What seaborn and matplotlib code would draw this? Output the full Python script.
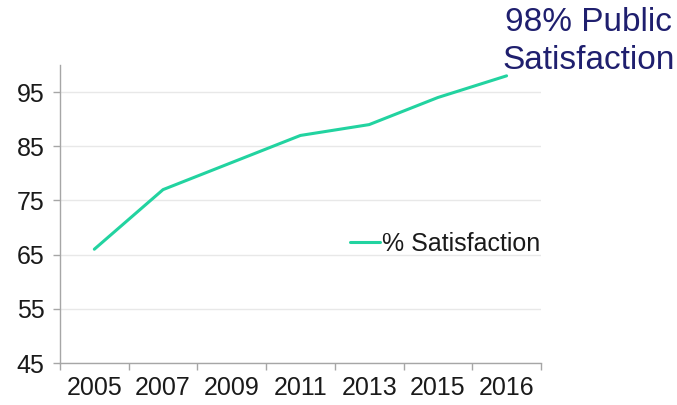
import matplotlib
matplotlib.use("Agg")
import matplotlib.pyplot as plt
import seaborn as sns
import pandas as pd
import numpy as np
from matplotlib.ticker import FixedLocator

years = ["2005", "2007", "2009", "2011", "2013", "2015", "2016"]
satisfaction = [66, 77, 82, 87, 89, 94, 98]
y_ticks = [45, 55, 65, 75, 85, 95]
series_label = "% Satisfaction"
callout = "98% Public\nSatisfaction"

sns.set_theme(style="white")
plt.rcParams["font.family"] = ["Liberation Sans", "DejaVu Sans"]

df = pd.DataFrame({"Year": years, "Value": satisfaction})

fig = plt.figure(figsize=(6.77, 4.05), dpi=100)
ax = fig.add_axes([0.0886, 0.1037, 0.7104, 0.7358])

sns.lineplot(data=df, x="Year", y="Value", ax=ax, color="#22d3a0",
             linewidth=2.2, label=series_label, sort=False)

ax.set_xlim(-0.5, len(years) - 0.5)
ax.set_ylim(45, 100)
ax.set_yticks(y_ticks)
ax.set_yticklabels([str(t) for t in y_ticks])
ax.set_xticks(range(len(years)))
ax.set_xticklabels(years)
ax.xaxis.set_minor_locator(FixedLocator(np.arange(-0.5, len(years), 1.0)))
ax.tick_params(axis="x", which="major", length=0, labelsize=18, pad=9, colors="#1a1a1a")
ax.tick_params(axis="x", which="minor", length=5, width=1, color="#a6a6a6", bottom=True)
ax.tick_params(axis="y", which="major", length=5, width=1, color="#a6a6a6",
               labelsize=18, pad=6, left=True, labelcolor="#1a1a1a")
ax.set_xlabel("")
ax.set_ylabel("")

ax.grid(axis="y", color="#e8e8e8", linewidth=1)
ax.set_axisbelow(True)
for s in ["top", "right"]:
    ax.spines[s].set_visible(False)
for s in ["left", "bottom"]:
    ax.spines[s].set_color("#a6a6a6")
    ax.spines[s].set_linewidth(1)

leg = ax.legend(loc="center left", bbox_to_anchor=(0.556, 0.40), frameon=False,
                fontsize=18, handlelength=1.2, handletextpad=0.1)
for t in leg.get_texts():
    t.set_color("#1a1a1a")

fig.text(0.869, 0.897, callout, ha="center", va="center", fontsize=24,
         color="#1f1f6e", linespacing=1.27)

fig.savefig("out.png", dpi=100)
